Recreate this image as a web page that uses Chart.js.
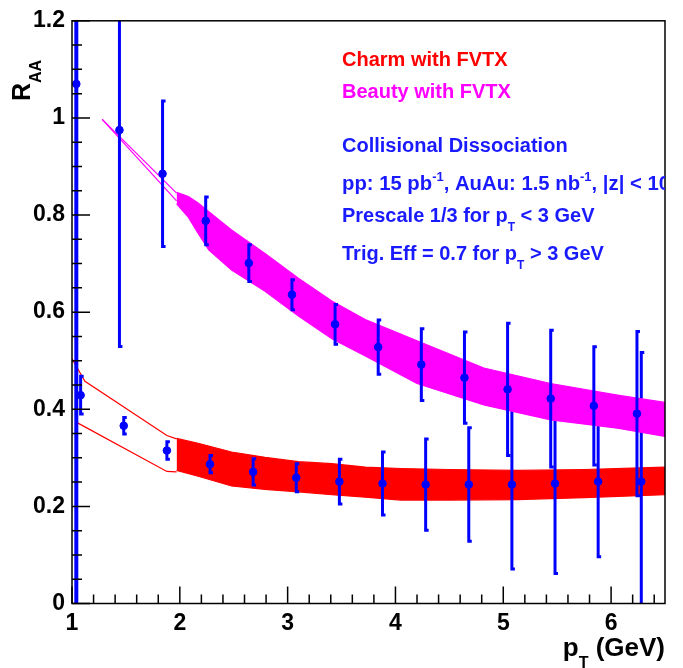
<!DOCTYPE html>
<html>
<head>
<meta charset="utf-8">
<script src="https://cdn.jsdelivr.net/npm/chart.js@4/dist/chart.umd.min.js"></script>
<style>
  body { margin: 0; background: #fff; }
  #wrap { width: 683px; height: 668px; }
</style>
</head>
<body>
<div id="wrap"><canvas id="raa" width="683" height="668"></canvas></div>
<script>
// beauty (upper) points
const beautyX = [1.04, 1.44, 1.84, 2.24, 2.64, 3.04, 3.44, 3.84, 4.24, 4.64, 5.04, 5.44, 5.84, 6.24]
const beautyY = [1.07, 0.975, 0.885, 0.788, 0.701, 0.636, 0.575, 0.528, 0.492, 0.465, 0.441, 0.422, 0.407, 0.391]
const beautyErr = [1.2, 0.447, 0.151, 0.05, 0.039, 0.032, 0.042, 0.057, 0.075, 0.095, 0.137, 0.142, 0.123, 0.17]

// charm (lower) points
const charmX = [1.08, 1.48, 1.88, 2.28, 2.68, 3.08, 3.48, 3.88, 4.28, 4.68, 5.08, 5.48, 5.88, 6.28]
const charmY = [0.429, 0.366, 0.315, 0.287, 0.271, 0.259, 0.251, 0.247, 0.245, 0.245, 0.245, 0.247, 0.251, 0.251]
const charmErr = [0.04, 0.018, 0.019, 0.019, 0.028, 0.03, 0.047, 0.066, 0.095, 0.118, 0.175, 0.186, 0.156, 0.267]

// red band (charm theory)
const redBandX = [1.97, 2.17, 2.48, 2.79, 3.10, 3.41, 3.72, 4.05, 4.5, 5.13, 5.75, 6.5]
const redBandHi = [0.34, 0.330, 0.312, 0.301, 0.292, 0.288, 0.281, 0.278, 0.276, 0.274, 0.276, 0.281]
const redBandLo = [0.274, 0.262, 0.242, 0.235, 0.230, 0.224, 0.219, 0.213, 0.213, 0.214, 0.218, 0.224]
const redOutHiX = [1.0, 1.12, 1.88, 1.97]
const redOutHiY = [0.504, 0.4575, 0.346, 0.339]
const redOutLoX = [1.03, 1.88, 1.97]
const redOutLoY = [0.3745, 0.272, 0.271]

// magenta band (beauty theory)
const magBandX = [1.97, 2.08, 2.17, 2.27, 2.48, 2.79, 3.10, 3.41, 3.72, 4.2, 4.82, 5.44, 6.06, 6.5]
const magBandHi = [0.847, 0.838, 0.825, 0.807, 0.769, 0.721, 0.670, 0.623, 0.585, 0.541, 0.485, 0.453, 0.429, 0.414]
const magBandLo = [0.823, 0.795, 0.762, 0.728, 0.687, 0.643, 0.592, 0.545, 0.51, 0.453, 0.409, 0.378, 0.361, 0.344]
const magOutX = [1.28, 1.97]
const magOutHiY = [0.997, 0.845]
const magOutLoY = [0.997, 0.829]

const xTicks = [1, 2, 3, 4, 5, 6]
const yTicks = [0, 0.2, 0.4, 0.6, 0.8, 1, 1.2]

const BLUE = '#0000ff'
const RED = '#ff0000'
const MAG = '#ff00ff'
const FONT = '"Liberation Sans", Arial, sans-serif'

const pts = (xs, ys) => xs.map((x, i) => ({x: x, y: ys[i]}))

function lineSet(xs, ys, color, order, fill){
  return {
    type: 'line', data: pts(xs, ys), borderColor: color, backgroundColor: color,
    borderWidth: 1.2, pointRadius: 0, tension: 0, fill: fill || false, order: order
  }
}

// error bars, drawn right after the dataset that owns them
const errorBars = {
  id: 'errorBars',
  afterDatasetDraw(chart, args){
    const ds = chart.data.datasets[args.index]
    if (!ds.errors) return
    const ctx = chart.ctx, xs = chart.scales.x, ys = chart.scales.y, a = chart.chartArea
    ctx.save()
    ctx.beginPath(); ctx.rect(a.left, a.top, a.right - a.left, a.bottom - a.top); ctx.clip()
    ctx.strokeStyle = BLUE
    ds.data.forEach((p, i) => {
      const e = ds.errors[i]
      const px = xs.getPixelForValue(p.x)
      const top = ys.getPixelForValue(p.y + e), bot = ys.getPixelForValue(p.y - e)
      ctx.lineWidth = e > 1 ? 4 : 3
      ctx.beginPath()
      ctx.moveTo(px, top); ctx.lineTo(px, bot)
      ctx.moveTo(px - 1.5, top + 0.5); ctx.lineTo(px + 3, top + 0.5)
      ctx.moveTo(px - 1.5, bot - 0.5); ctx.lineTo(px + 3, bot - 0.5)
      ctx.stroke()
    })
    ctx.restore()
  }
}

function drawRich(ctx, x, y, parts, size){
  let cx = x
  parts.forEach(p => {
    const small = p.sub || p.sup
    const s = small ? Math.round(size * 0.62) : size
    ctx.font = 'bold ' + s + 'px ' + FONT
    const dy = p.sub ? size * 0.45 : p.sup ? -size * 0.42 : 0
    ctx.fillText(p.t, cx, y + dy)
    cx += ctx.measureText(p.t).width
  })
  return cx
}

function richWidth(ctx, parts, size){
  let w = 0
  parts.forEach(p => {
    const s = (p.sub || p.sup) ? Math.round(size * 0.62) : size
    ctx.font = 'bold ' + s + 'px ' + FONT
    w += ctx.measureText(p.t).width
  })
  return w
}

// frame, inside ticks, axis titles and text box
const decor = {
  id: 'decor',
  afterDraw(chart){
    const ctx = chart.ctx, xs = chart.scales.x, ys = chart.scales.y, a = chart.chartArea
    ctx.save()
    ctx.strokeStyle = '#000'; ctx.lineWidth = 1.5
    ctx.strokeRect(a.left, a.top, a.right - a.left, a.bottom - a.top)
    ctx.beginPath()
    for (let v = 0; v <= 1.2001; v += 0.05){
      const py = ys.getPixelForValue(v)
      const len = Math.abs(v / 0.2 - Math.round(v / 0.2)) < 1e-6 ? 18 : 10
      ctx.moveTo(a.left, py); ctx.lineTo(a.left + len, py)
    }
    for (let v = 1; v <= 6.5001; v += 0.2){
      const px = xs.getPixelForValue(v)
      const len = Math.abs(v - Math.round(v)) < 1e-6 ? 17 : 9
      ctx.moveTo(px, a.bottom); ctx.lineTo(px, a.bottom - len)
    }
    ctx.stroke()

    ctx.fillStyle = '#000'
    ctx.textBaseline = 'alphabetic'; ctx.textAlign = 'left'
    // x title, right edge on the frame
    const xt = [{t: 'p'}, {t: 'T', sub: true}, {t: ' (GeV)'}]
    drawRich(ctx, a.right - richWidth(ctx, xt, 26), 656, xt, 26)
    // y title
    ctx.save()
    ctx.translate(30, 101); ctx.rotate(-Math.PI / 2)
    drawRich(ctx, 0, 0, [{t: 'R'}, {t: 'AA', sub: true}], 25)
    ctx.restore()

    // text box, clipped at the frame
    ctx.beginPath(); ctx.rect(a.left, a.top, a.right - a.left, a.bottom - a.top); ctx.clip()
    const lx = 342
    ctx.fillStyle = RED
    drawRich(ctx, lx, 65.5, [{t: 'Charm with FVTX'}], 20)
    ctx.fillStyle = MAG
    drawRich(ctx, lx, 98, [{t: 'Beauty with FVTX'}], 20)
    ctx.fillStyle = '#1a1aff'
    drawRich(ctx, lx, 151.5, [{t: 'Collisional Dissociation'}], 20)
    drawRich(ctx, lx, 190, [{t: 'pp: 15 pb'}, {t: '-1', sup: true}, {t: ', AuAu: 1.5 nb'}, {t: '-1', sup: true}, {t: ', |z| < 10cm'}], 20.3)
    drawRich(ctx, lx, 221.5, [{t: 'Prescale 1/3 for p'}, {t: 'T', sub: true}, {t: ' < 3 GeV'}], 20)
    drawRich(ctx, lx, 259.5, [{t: 'Trig. Eff = 0.7 for p'}, {t: 'T', sub: true}, {t: ' > 3 GeV'}], 20)
    ctx.restore()
  }
}

const ctx = document.getElementById('raa')

new Chart(ctx, {
  type: 'scatter',
  data: {
    datasets: [
      lineSet(redBandX, redBandHi, RED, 10, '+1'),
      lineSet(redBandX, redBandLo, RED, 10),
      lineSet(redOutHiX, redOutHiY, RED, 9),
      lineSet(redOutLoX, redOutLoY, RED, 9),
      {
        label: 'charm', data: pts(charmX, charmY), errors: charmErr,
        pointRadius: 3.8, pointBackgroundColor: BLUE, pointBorderColor: BLUE, order: 8
      },
      lineSet(magBandX, magBandHi, MAG, 7, '+1'),
      lineSet(magBandX, magBandLo, MAG, 7),
      lineSet(magOutX, magOutHiY, MAG, 6),
      lineSet(magOutX, magOutLoY, MAG, 6),
      {
        label: 'beauty', data: pts(beautyX, beautyY), errors: beautyErr,
        pointRadius: 3.8, pointBackgroundColor: BLUE, pointBorderColor: BLUE, order: 1
      }
    ]
  },
  options: {
    responsive: false,
    animation: false,
    devicePixelRatio: 1,
    layout: { padding: { top: 15, right: 18, left: 0, bottom: 0 } },
    plugins: { legend: { display: false }, tooltip: { enabled: false } },
    scales: {
      x: {
        type: 'linear', min: 1, max: 6.5,
        grid: { display: false, drawTicks: false },
        border: { display: false },
        afterBuildTicks: s => { s.ticks = xTicks.map(v => ({value: v})) },
        afterFit: s => { s.height = 64.5 },
        ticks: { padding: 6, color: '#000', font: { family: FONT, size: 23, weight: 'bold' }, maxRotation: 0, autoSkip: false,
          callback: v => String(v) }
      },
      y: {
        min: 0, max: 1.2,
        grid: { display: false, drawTicks: false },
        border: { display: false },
        afterBuildTicks: s => { s.ticks = yTicks.map(v => ({value: v})) },
        afterFit: s => { s.width = 72 },
        ticks: { padding: 7, color: '#000', font: { family: FONT, size: 23, weight: 'bold' }, autoSkip: false,
          callback: v => String(Math.round(v * 10) / 10) }
      }
    }
  },
  plugins: [errorBars, decor]
})
</script>
</body>
</html>
